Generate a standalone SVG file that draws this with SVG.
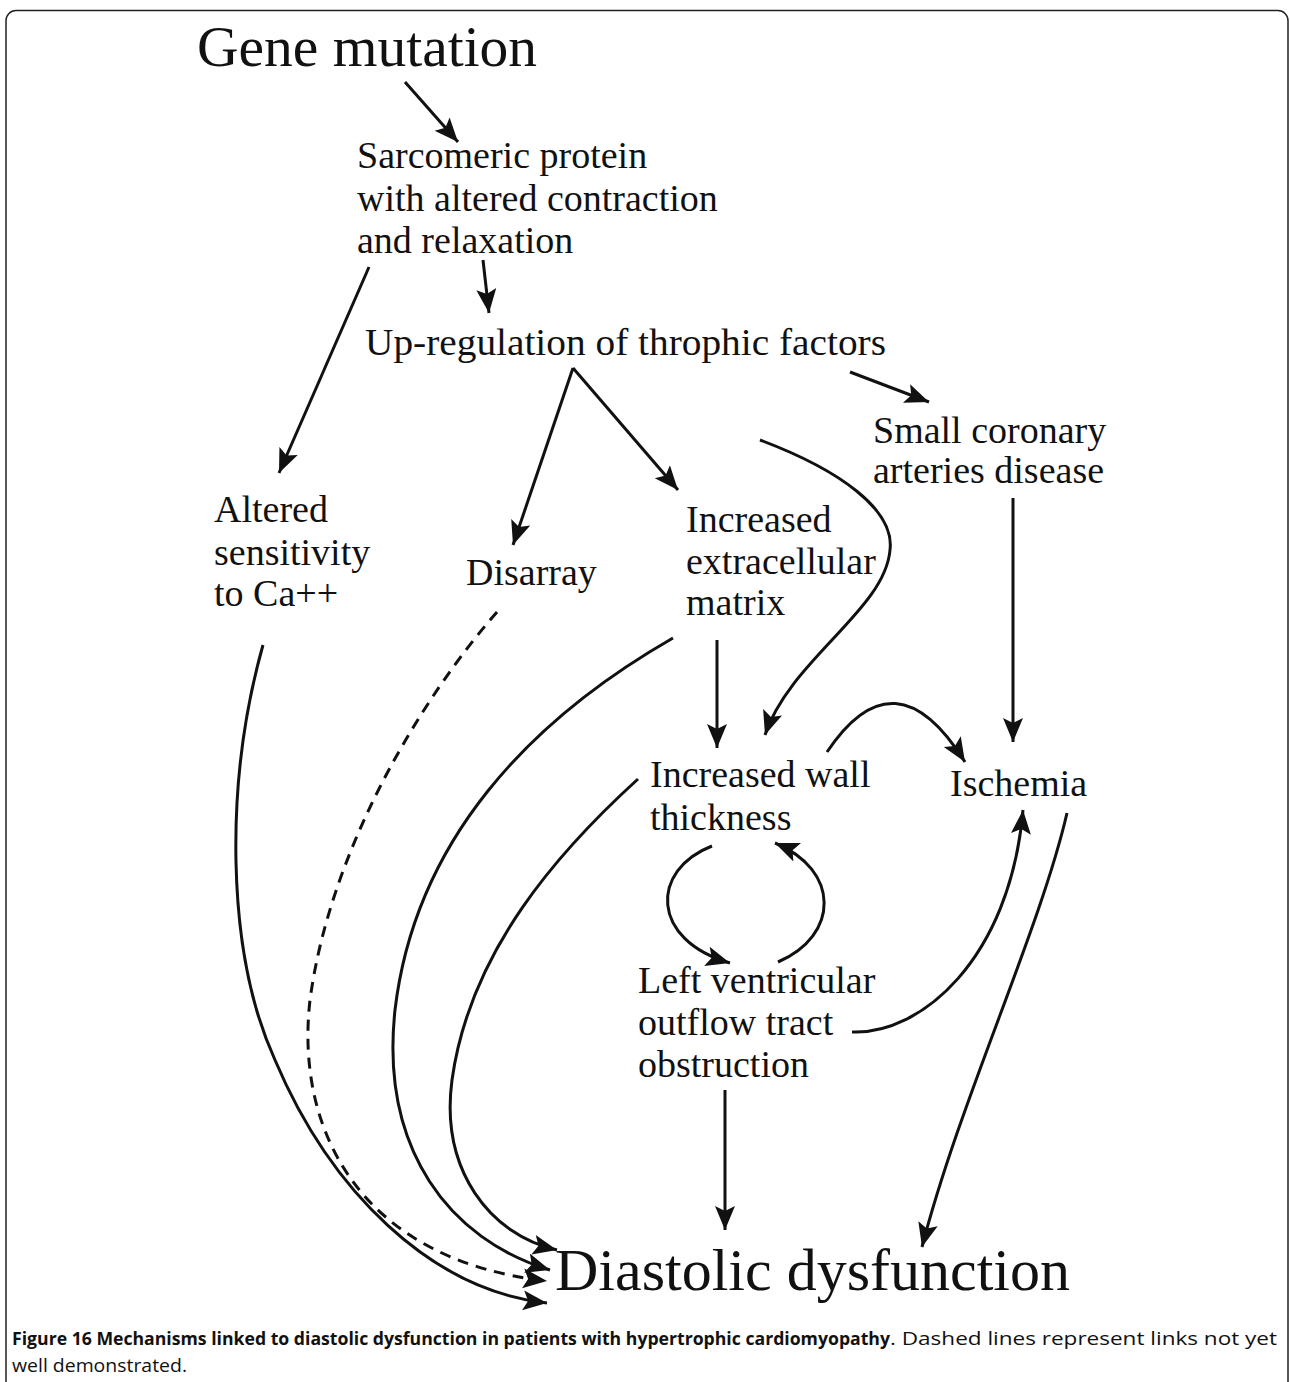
<svg xmlns="http://www.w3.org/2000/svg" width="1290" height="1382" viewBox="0 0 1290 1382">
<style>
.t{font-family:"Liberation Serif","Times New Roman",serif;font-size:38px;fill:#111}
.big{font-size:57.5px}
.dd{font-size:60px}
.c{stroke:#111;stroke-width:3;fill:none;marker-end:url(#ah)}
.dash{stroke-dasharray:11 8}
.cap{font-family:"Open Sans","Noto Sans",sans-serif;font-size:18px;fill:#111}
</style>
<defs>
<marker id="ah" markerUnits="userSpaceOnUse" markerWidth="26" markerHeight="22" refX="24" refY="10" orient="auto">
<path d="M0,0 L24,10 L0,20 L5,10 z" fill="#111"/>
</marker>
</defs>
<rect x="6" y="10.5" width="1282" height="1420" rx="10" fill="#fff" stroke="#222" stroke-width="1.5"/>

<g id="connectors">
<path class="c" d="M405,82 L458,142"/>
<path class="c" d="M483,260 L489,313"/>
<path class="c" d="M369,267 L279,473"/>
<path class="c" d="M573,368 L513,545"/>
<path class="c" d="M573,368 L678,490"/>
<path class="c" d="M850,372 L929,402"/>
<path class="c" d="M760,440 C840,470 895,510 890,550 C885,610 790,660 765,735"/>
<path class="c" d="M1013,498 L1013,742"/>
<path class="c" d="M717,640 L717,748"/>
<path class="c" d="M827,752 Q895,650 965,762"/>
<path class="c" d="M712,846 C650,870 650,940 730,963"/>
<path class="c" d="M778,962 C840,935 840,870 775,843"/>
<path class="c" d="M852,1032 C920,1035 1010,960 1023,810"/>
<path class="c" d="M1067,813 C1040,930 960,1100 922,1247"/>
<path class="c" d="M725,1090 L725,1230"/>
<path class="c" d="M638,779 C560,850 470,950 452,1080 C440,1170 490,1235 557,1250"/>
<path class="c" d="M673,638 C530,720 415,840 395,1010 C380,1150 450,1240 550,1270"/>
<path class="c dash" d="M497,612 C420,700 330,850 310,1000 C295,1130 360,1260 547,1281"/>
<path class="c" d="M263,645 C225,780 225,950 275,1060 C330,1190 430,1290 547,1303"/>
</g>

<g id="gene"><text class="t big" x="197" y="66">Gene mutation</text></g>
<g id="sarcomeric"><text class="t" x="357" y="168">Sarcomeric protein</text><text class="t" x="357" y="211">with altered contraction</text><text class="t" x="357" y="253">and relaxation</text></g>
<g id="upreg"><text class="t" x="365" y="355" textLength="521" lengthAdjust="spacingAndGlyphs">Up-regulation of throphic factors</text></g>
<g id="smallcor"><text class="t" x="873" y="443">Small coronary</text><text class="t" x="873" y="483">arteries disease</text></g>
<g id="altered"><text class="t" x="214" y="522">Altered</text><text class="t" x="214" y="565">sensitivity</text><text class="t" x="214" y="606">to Ca++</text></g>
<g id="disarray"><text class="t" x="466" y="585">Disarray</text></g>
<g id="ecm"><text class="t" x="686" y="532">Increased</text><text class="t" x="686" y="574">extracellular</text><text class="t" x="686" y="615">matrix</text></g>
<g id="wall"><text class="t" x="650" y="787">Increased wall</text><text class="t" x="650" y="830">thickness</text></g>
<g id="ischemia"><text class="t" x="950" y="796">Ischemia</text></g>
<g id="lvot"><text class="t" x="638" y="993">Left ventricular</text><text class="t" x="638" y="1035">outflow tract</text><text class="t" x="638" y="1077">obstruction</text></g>
<g id="diastolic"><text class="t dd" x="555" y="1290" textLength="515" lengthAdjust="spacingAndGlyphs">Diastolic dysfunction</text></g>

<g id="caption">
<text class="cap" x="12" y="1345" font-weight="bold" textLength="878" lengthAdjust="spacingAndGlyphs">Figure 16 Mechanisms linked to diastolic dysfunction in patients with hypertrophic cardiomyopathy</text>
<text class="cap" x="890" y="1345" textLength="387" lengthAdjust="spacingAndGlyphs">. Dashed lines represent links not yet</text>
<text class="cap" x="12" y="1372" textLength="175" lengthAdjust="spacingAndGlyphs">well demonstrated.</text>
</g>
</svg>
